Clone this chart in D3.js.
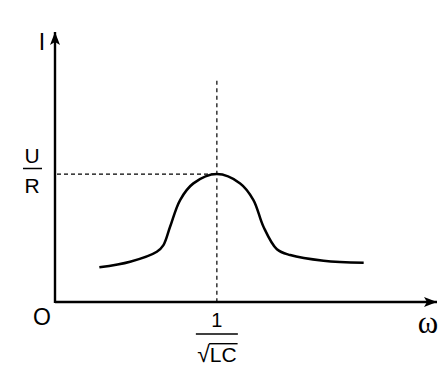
<!DOCTYPE html>
<html lang="en">
<head>
<meta charset="utf-8">
<title>Resonance curve</title>
<script src="https://cdn.jsdelivr.net/npm/d3@7"></script>
<style>
  body { margin: 0; background: #fff; }
  .lbl { font-family: "Liberation Sans", Arial, sans-serif; fill: #000; }
</style>
</head>
<body>
<div id="chart"></div>
<script>
// curve data: omega in units of 1/sqrt(LC), current in units of U/R
var omega = [0.274, 0.464, 0.629, 0.670, 0.711, 0.773, 0.855, 1.0, 1.144, 1.226, 1.288, 1.371, 1.453, 1.659, 1.907];
var current = [0.271, 0.315, 0.393, 0.445, 0.588, 0.797, 0.927, 1.0, 0.927, 0.797, 0.588, 0.412, 0.367, 0.323, 0.307];
var omega0 = 1;      // resonance frequency
var peak = 1;        // U/R

var width = 448, height = 385;

var svg = d3.select("#chart")
  .append("svg")
  .attr("width", width)
  .attr("height", height);

var x = d3.scaleLinear().domain([0, 2.36]).range([55, 437]);
var y = d3.scaleLinear().domain([0, 2.11]).range([302, 32]);

// arrow head
svg.append("defs").append("marker")
  .attr("id", "arrow")
  .attr("viewBox", "0 0 13 10")
  .attr("refX", 13).attr("refY", 5)
  .attr("markerWidth", 13).attr("markerHeight", 10)
  .attr("markerUnits", "userSpaceOnUse")
  .attr("orient", "auto")
  .append("path")
  .attr("d", "M0,0 L13,5 L0,10 L3,5 Z")
  .attr("fill", "#000");

// axes
svg.append("line")
  .attr("x1", x(0)).attr("y1", y(0))
  .attr("x2", x(2.36)).attr("y2", y(0))
  .attr("stroke", "#000").attr("stroke-width", 2.4)
  .attr("marker-end", "url(#arrow)");
svg.append("line")
  .attr("x1", x(0)).attr("y1", y(0) + 1)
  .attr("x2", x(0)).attr("y2", y(2.11))
  .attr("stroke", "#000").attr("stroke-width", 2.4)
  .attr("marker-end", "url(#arrow)");

// dashed guides
svg.append("line")
  .attr("x1", x(0) + 2).attr("y1", y(peak))
  .attr("x2", x(omega0)).attr("y2", y(peak))
  .attr("stroke", "#000").attr("stroke-width", 1.2)
  .attr("stroke-dasharray", "4,3");
svg.append("line")
  .attr("x1", x(omega0)).attr("y1", y(1.73))
  .attr("x2", x(omega0)).attr("y2", y(0))
  .attr("stroke", "#000").attr("stroke-width", 1.2)
  .attr("stroke-dasharray", "4,3.5");

// resonance curve
var line = d3.line()
  .x(function (d, i) { return x(omega[i]); })
  .y(function (d) { return y(d); })
  .curve(d3.curveCatmullRom.alpha(0.5));

svg.append("path")
  .datum(current)
  .attr("d", line)
  .attr("fill", "none")
  .attr("stroke", "#000")
  .attr("stroke-width", 2.5);

// labels
svg.append("text").attr("class", "lbl")
  .attr("x", 42).attr("y", 50)
  .attr("text-anchor", "middle").attr("font-size", 23)
  .text("I");

svg.append("text").attr("class", "lbl")
  .attr("x", 32).attr("y", 163)
  .attr("text-anchor", "middle").attr("font-size", 21)
  .text("U");
svg.append("line")
  .attr("x1", 23).attr("x2", 42)
  .attr("y1", 168.5).attr("y2", 168.5)
  .attr("stroke", "#000").attr("stroke-width", 1.5);
svg.append("text").attr("class", "lbl")
  .attr("x", 32).attr("y", 193)
  .attr("text-anchor", "middle").attr("font-size", 21)
  .text("R");

svg.append("text").attr("class", "lbl")
  .attr("x", 42).attr("y", 325)
  .attr("text-anchor", "middle").attr("font-size", 23)
  .text("O");

svg.append("text").attr("class", "lbl")
  .attr("x", x(omega0)).attr("y", 327)
  .attr("text-anchor", "middle").attr("font-size", 20)
  .text("1");
svg.append("line")
  .attr("x1", x(omega0) - 21).attr("x2", x(omega0) + 21)
  .attr("y1", 334).attr("y2", 334)
  .attr("stroke", "#000").attr("stroke-width", 1.5);

// square root of LC, overline joined to the radical's top
var radSize = 23, lcSize = 21, base = 362;
var ctx = document.createElement("canvas").getContext("2d");
ctx.font = radSize + "px 'Liberation Sans'";
var radM = ctx.measureText("\u221A");
ctx.font = lcSize + "px 'Liberation Sans'";
var lcW = ctx.measureText("LC").width;
var totalW = radM.width + lcW;
var x0 = x(omega0) - totalW / 2;

var rad = svg.append("text").attr("class", "lbl")
  .attr("x", x0).attr("y", base);
rad.append("tspan").attr("font-size", radSize).text("\u221A");
rad.append("tspan").attr("font-size", lcSize).text("LC");

var topY = base - radM.actualBoundingBoxAscent + 0.7;
svg.append("line")
  .attr("x1", x0 + radM.actualBoundingBoxRight - 1)
  .attr("x2", x0 + totalW + 1)
  .attr("y1", topY).attr("y2", topY)
  .attr("stroke", "#000").attr("stroke-width", 1.4);

svg.append("text")
  .attr("x", 428).attr("y", 333)
  .attr("text-anchor", "middle")
  .attr("font-family", "'Liberation Serif', serif")
  .attr("font-size", 31)
  .text("\u03C9");
</script>
</body>
</html>
